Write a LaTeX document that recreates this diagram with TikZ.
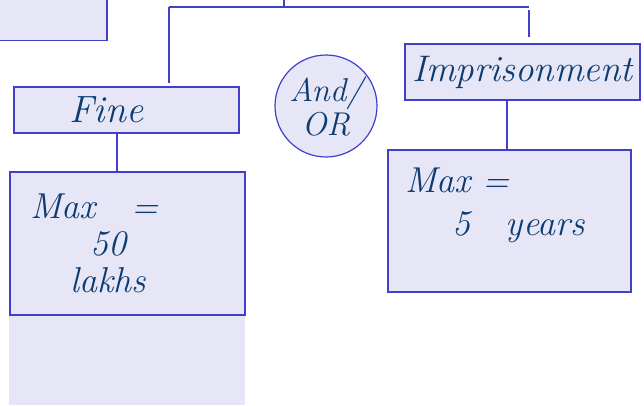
\documentclass[tikz,border=0pt]{standalone}
\usetikzlibrary{positioning,calc}
\definecolor{penblue}{RGB}{13,60,115}
\definecolor{edgeblue}{RGB}{64,64,204}
\definecolor{boxfill}{RGB}{230,230,246}
\tikzset{
  box/.style={draw=edgeblue,fill=boxfill,line width=1.2pt,inner sep=0pt,text=penblue},
  link/.style={draw=edgeblue,line width=1.2pt}
}
\begin{document}
\begin{tikzpicture}[x=1pt,y=-1pt,font=\itshape]
\useasboundingbox (0,0) rectangle (644,405);
\fill[boxfill] (9,315) rectangle (245,405);
\node[box,minimum width=110,minimum height=43] (prev) at (52,19) {};
\node[box,minimum width=225,minimum height=46,font=\fontsize{38}{40}\selectfont\itshape] (fine) at (126.5,110) {Fine\hspace*{40pt}};
\node[box,circle,minimum size=102,font=\fontsize{33}{34}\selectfont\itshape,align=center] (andor) at (326,106) {And/\\OR};
\node[box,minimum width=235,minimum height=56,font=\fontsize{37}{40}\selectfont\itshape] (prison) at (522.5,72) {Imprisonment};
\node[box,minimum width=235,minimum height=143,text width=195,align=left,font=\fontsize{36}{37}\selectfont\itshape] (finemax) at (127.5,243.5)
  {Max\ \ \ =\\\hspace*{60pt}50\\\hspace*{40pt}lakhs};
\node[box,minimum width=243,minimum height=142,text width=209,align=left,font=\fontsize{36}{43}\selectfont\itshape] (prisonmax) at (509.5,221)
  {Max =\\\hspace*{47pt}5\ \ \ years\rule[-38pt]{0pt}{38pt}};
% branch lines
\coordinate (top) at (284,0);
\coordinate (split) at (284,7);
\coordinate (lft) at (169,7);
\coordinate (rgt) at (529,7);
\draw[link] (top) -- (split);
\draw[link] (lft) -- (rgt);
\draw[link,shorten >=3pt] (lft) -- (lft |- fine.north);
\draw[link,shorten <=3pt,shorten >=6pt] (rgt) -- (rgt |- prison.north);
\draw[link] (fine.south -| 117,0) -- (finemax.north -| 117,0);
\draw[link] (prison.south -| 507,0) -- (prisonmax.north -| 507,0);
\end{tikzpicture}
\end{document}
